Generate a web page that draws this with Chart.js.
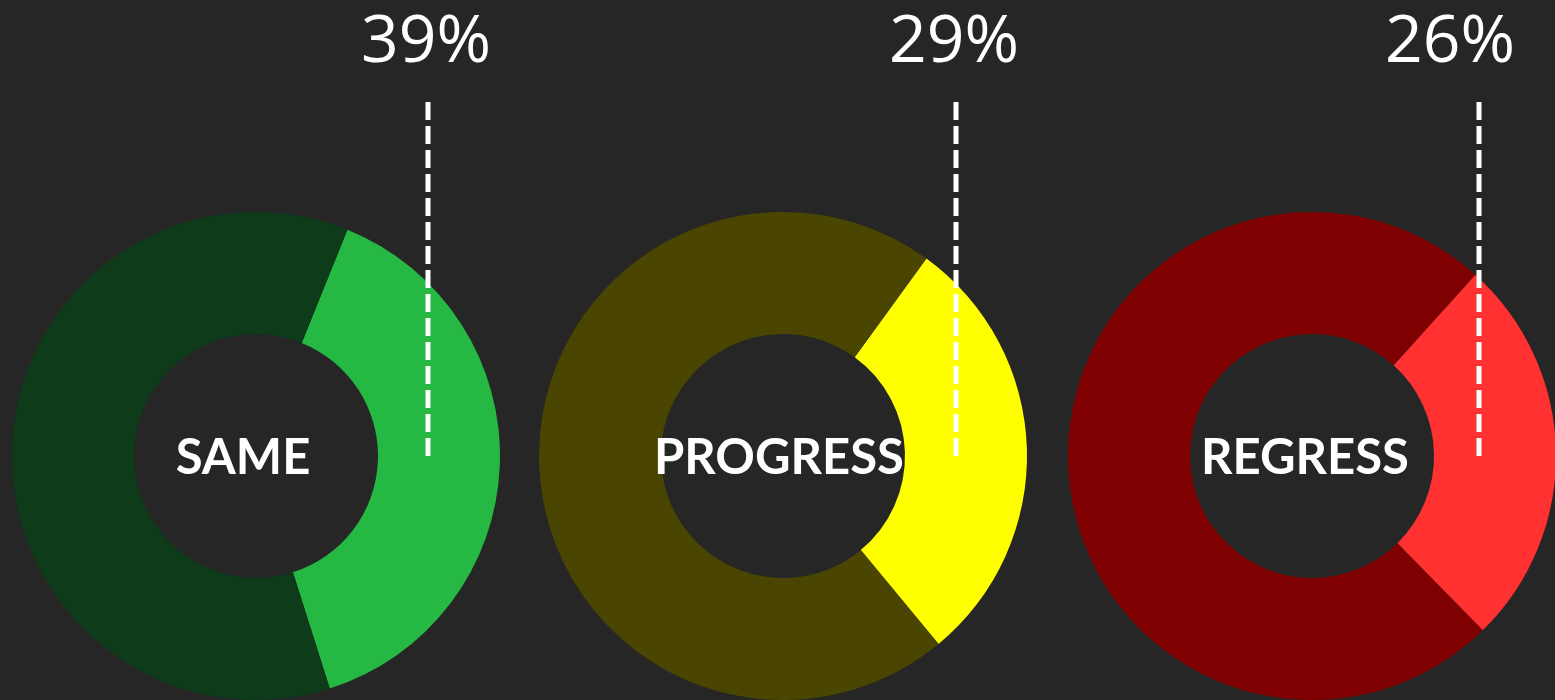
<!DOCTYPE html>
<html>
<head>
<meta charset="utf-8">
<script src="https://cdn.jsdelivr.net/npm/chart.js@4.4.0/dist/chart.umd.min.js"></script>
<style>
    html, body { margin: 0; padding: 0; background: #262626; overflow: hidden; }
    #wrap { position: relative; width: 1555px; height: 700px; }
    canvas { position: absolute; top: 0; }
</style>
</head>
<body>
<div id="wrap">
    <canvas id="chart0" width="500" height="700" style="left:6px"></canvas>
    <canvas id="chart1" width="500" height="700" style="left:533px"></canvas>
    <canvas id="chart2" width="500" height="700" style="left:1062px"></canvas>
</div>
<script>
"use strict";

// data
const labels = ["SAME", "PROGRESS", "REGRESS"];
const percents = [39, 29, 26];
const rotations = [22, 36, 42];
const lightColors = ["#25b843", "#ffff00", "#ff3131"];
const darkColors = ["#0e3b19", "#4a4500", "#7f0000"];

// small placement tweaks per donut
const labelShift = [-13, -4, -7];
const lineOffsets = [172, 173, 167];
const pctOffsets = [170, 171, 138];

(function() {
    const calloutPlugin = {
        id: "callout",
        afterDraw(chart, args, opts) {
            const ctx = chart.ctx;
            const arc = chart.getDatasetMeta(0).data[0];
            const cx = arc.x;
            const cy = arc.y;

            ctx.save();
            // center label
            ctx.fillStyle = "#ffffff";
            ctx.font = "bold 49px Lato";
            ctx.textAlign = "center";
            ctx.textBaseline = "alphabetic";
            ctx.fillText(opts.label, cx + opts.shift, cy + 18);

            // dashed leader line
            ctx.strokeStyle = "#ffffff";
            ctx.lineWidth = 5;
            ctx.setLineDash([18, 6]);
            ctx.beginPath();
            ctx.moveTo(cx + opts.line, 102);
            ctx.lineTo(cx + opts.line, cy);
            ctx.stroke();

            // percentage
            ctx.setLineDash([]);
            ctx.font = "66px 'Open Sans'";
            ctx.fillText(opts.pct + "%", cx + opts.offset, 62);
            ctx.restore();
        },
    };

    function drawDonut(i) {
        const ctx = document.getElementById("chart" + i).getContext("2d");
        new Chart(ctx, {
            type: "doughnut",
            data: {
                labels: [labels[i], "other"],
                datasets: [{
                    data: [percents[i], 100 - percents[i]],
                    backgroundColor: [lightColors[i], darkColors[i]],
                    borderWidth: 0,
                }],
            },
            options: {
                responsive: false,
                animation: false,
                rotation: rotations[i],
                cutout: "50%",
                layout: { padding: { top: 212, bottom: -2, left: 5, right: 5 } },
                plugins: {
                    legend: { display: false },
                    tooltip: { enabled: false },
                    callout: {
                        label: labels[i],
                        pct: percents[i],
                        shift: labelShift[i],
                        line: lineOffsets[i],
                        offset: pctOffsets[i],
                    },
                },
            },
            plugins: [calloutPlugin],
        });
    }

    for (let i = 0; i < labels.length; i++) {
        drawDonut(i);
    }
})();
</script>
</body>
</html>
